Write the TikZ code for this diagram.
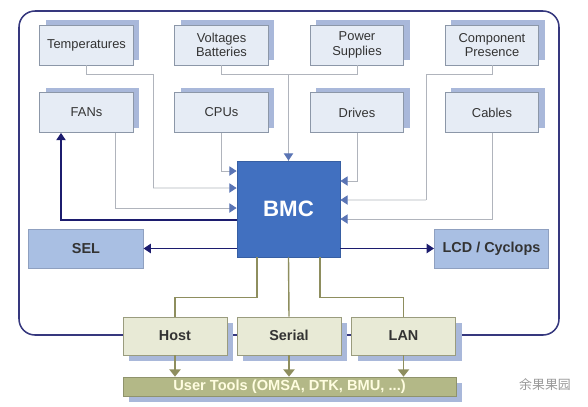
\documentclass[tikz,border=0pt]{standalone}
\usepackage{fontspec}
\setmainfont{Liberation Sans}
\newfontfamily\cjk{Noto Sans CJK SC}
\usetikzlibrary{arrows.meta,shadows}
\definecolor{boxfill}{HTML}{E6ECF5}
\definecolor{boxdraw}{HTML}{8C97A8}
\definecolor{shblue}{HTML}{A9B8DA}
\definecolor{bmcblue}{HTML}{4170C0}
\definecolor{selfill}{HTML}{A9BFE3}
\definecolor{seldraw}{HTML}{8FA0C0}
\definecolor{khaki}{HTML}{E8EAD6}
\definecolor{khakidraw}{HTML}{9A9C7E}
\definecolor{olive}{HTML}{8E8E5E}
\definecolor{toolfill}{HTML}{B3B887}
\definecolor{frame}{HTML}{36387E}
\definecolor{navy}{HTML}{1C1C6E}
\definecolor{glines}{HTML}{B0B4BC}
\definecolor{tipblue}{HTML}{5A74B4}
\definecolor{txt}{HTML}{333333}
\tikzset{
  srcbox/.style={draw=boxdraw, fill=boxfill, line width=0.6pt, minimum width=2.8cm, minimum height=1.2cm,
    align=center, font=\fontsize{11}{12.5}\selectfont, text=txt, inner sep=1pt,
    general shadow={fill=shblue, shadow xshift=0.18cm, shadow yshift=0.15cm}},
  outbox/.style={draw=seldraw, fill=selfill, line width=0.6pt, minimum width=3.43cm, minimum height=1.17cm,
    font=\fontsize{12.3}{14}\selectfont\bfseries, text=txt},
  ifbox/.style={draw=khakidraw, fill=khaki, line width=0.6pt, minimum width=3.12cm, minimum height=1.14cm,
    font=\fontsize{12.3}{14}\selectfont\bfseries, text=txt, text height=1.6ex, text depth=0.3ex,
    general shadow={fill=shblue, shadow xshift=0.18cm, shadow yshift=-0.18cm}},
  gl/.style={draw=glines, line width=0.8pt},
  gtip/.style={-{Triangle[width=0.28cm,length=0.22cm,fill=tipblue,color=tipblue]}},
  nl/.style={draw=navy, line width=1.1pt},
  ntip/.style={-{Triangle[width=0.28cm,length=0.22cm]}},
  ol/.style={draw=olive, line width=1.2pt},
  otip/.style={-{Triangle[width=0.34cm,length=0.22cm]}},
}
\begin{document}
\begin{tikzpicture}[x=0.03cm,y=-0.03cm]
\useasboundingbox (0,0) rectangle (588,406);
% outer frame
\draw[frame, line width=1.3pt, rounded corners=0.48cm] (19,11) rectangle (559,335);

% source boxes
\node[srcbox] (temp) at (86.5,45) {Temperatures};
\node[srcbox] (volt) at (221.5,45) {Voltages\\Batteries};
\node[srcbox] (pow)  at (357,45) {Power\\Supplies};
\node[srcbox] (comp) at (492,45) {Component\\Presence};
\node[srcbox] (fans) at (86.5,112.5) {FANs};
\node[srcbox] (cpu)  at (221.5,112.5) {CPUs};
\node[srcbox] (drv)  at (357,112.5) {Drives};
\node[srcbox] (cab)  at (492,112.5) {Cables};

% BMC
\node[draw=bmcblue!85!black, line width=0.6pt, fill=bmcblue, minimum width=3.09cm, minimum height=2.88cm,
  text=white, font=\fontsize{19}{22}\selectfont\bfseries] (bmc) at (288.5,209) {BMC};

% gray connectors into BMC
\draw[gl] (temp.south) -- ++(0,9) -| (153,188);
\draw[gl,gtip] (153,188) -- ([yshift=0.63cm]bmc.west);
\draw[gl,gtip] (cpu.south) |- ([yshift=1.14cm]bmc.west);
\draw[gl,gtip] ([xshift=0.855cm]fans.south) |- ([yshift=0.03cm]bmc.west);
\draw[gl] (pow.south) -- ++(0,9) -| (bmc.north);
\draw[gl,gtip] (volt.south) -- ++(0,9) -| (bmc.north);
\draw[gl,gtip] (drv.south) |- ([yshift=0.84cm]bmc.east);
\draw[gl] (comp.south) -- ++(0,9) -| (426,200);
\draw[gl,gtip] (426,200) -- ([yshift=0.27cm]bmc.east);
\draw[gl,gtip] (cab.south) |- ([yshift=-0.3cm]bmc.east);

% outputs
\node[outbox] (sel) at (86,248.5) {SEL};
\node[outbox] (lcd) at (491.5,248.5) {LCD / Cyclops};
\draw[nl,ntip] ([yshift=-0.33cm]bmc.west) -| ([xshift=-0.765cm]fans.south);
\draw[nl,ntip] (sel.east -| bmc.west) -- (sel.east);
\draw[nl,ntip] (lcd.west -| bmc.east) -- (lcd.west);

% interfaces
\node[ifbox] (host)   at (175,336) {Host};
\node[ifbox] (serial) at (289,336) {Serial};
\node[ifbox] (lan)    at (403.5,336) {LAN};
\node[draw=toolfill!80!black, line width=0.6pt, fill=toolfill, minimum width=9.99cm, minimum height=0.57cm, inner sep=0pt,
  text=white!88!yellow, font=\fontsize{12.5}{13}\selectfont\bfseries,
  general shadow={fill=shblue, shadow xshift=0.18cm, shadow yshift=-0.18cm}] (tools) at (289.5,386.5) {User Tools (OMSA, DTK, BMU, ...)};

\draw[ol] ([xshift=-0.945cm]bmc.south) -- ++(0,40) -| (host.north);
\draw[ol] (bmc.south) -- (serial.north);
\draw[ol] ([xshift=0.945cm]bmc.south) -- ++(0,40) -| (lan.north);
\draw[ol,otip] (host.south) -- (host.south |- tools.north);
\draw[ol,otip] (serial.south) -- (serial.south |- tools.north);
\draw[ol,otip] (lan.south) -- (lan.south |- tools.north);

% watermark
\node[text=black!40, font=\cjk\fontsize{11}{12}\selectfont] (wm) at (545,385) {余果果园};
\end{tikzpicture}
\end{document}
